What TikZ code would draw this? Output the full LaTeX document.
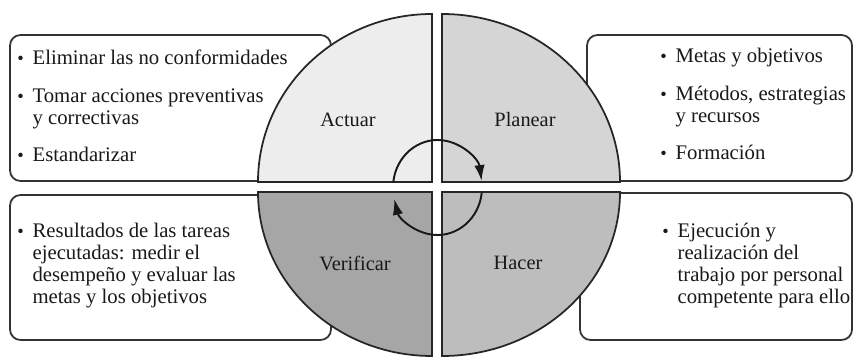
\documentclass[tikz,border=0pt]{standalone}
\usepackage{fontspec}
\setmainfont{Liberation Serif}
\usetikzlibrary{arrows.meta}
\definecolor{actgray}{HTML}{EDEDED}
\definecolor{plangray}{HTML}{D5D5D5}
\definecolor{hacgray}{HTML}{BDBDBD}
\definecolor{vergray}{HTML}{A6A6A6}
\newcommand{\pt}{\raisebox{0.3pt}{\fontsize{10.5}{10.5}\selectfont\textbullet}}

\begin{document}
\begin{tikzpicture}[
    x=0.02cm, y=0.02cm,
    >={Latex[length=9pt,width=6pt]},
    note/.style={draw=black!80, line width=1pt, rounded corners=6pt, fill=white},
    part/.style={draw=black!85, line width=1pt},
    lbl/.style={font=\fontsize{11.6}{13}\selectfont, text=black!90},
    items/.style={anchor=base west, inner sep=0pt, text=black!90,
                  font=\fontsize{11.8}{12.4}\selectfont},
    cyc/.style={->, line width=1.1pt, black!90},
  ]
  \useasboundingbox (0,0) rectangle (854,358);

  % text boxes, behind the wheel
  \draw[note] (10,177) rectangle (331,323);
  \draw[note] (587,177) rectangle (852,323);
  \draw[note] (10,18) rectangle (331,163);
  \draw[note] (580,18) rectangle (852,165);

  % wheel quarters
  \draw[part, fill=actgray] (432,176) -- ++(-174,0)
    arc[start angle=180, end angle=90, x radius=174, y radius=168] -- cycle;
  \draw[part, fill=plangray] (442,176) -- ++(0,168)
    arc[start angle=90, end angle=0, x radius=178, y radius=168] -- cycle;
  \draw[part, fill=hacgray] (442,166) -- ++(178,0)
    arc[start angle=0, end angle=-90, x radius=178, y radius=164] -- cycle;
  \draw[part, fill=vergray] (432,166) -- ++(0,-164)
    arc[start angle=270, end angle=180, x radius=174, y radius=164] -- cycle;

  \node[lbl] (actuar) at (348,238) {Actuar};
  \node[lbl] (planear) at (525,238) {Planear};
  \node[lbl] (verificar) at (355,95) {Verificar};
  \node[lbl] (hacer) at (518,95) {Hacer};

  % cycle arrows
  \coordinate (hub) at (437.5,170.5);
  \draw[cyc] ([shift={(174:44.5 and 47.5)}]hub)
    arc[start angle=174, end angle=8, x radius=44.5, y radius=47.5];
  \draw[cyc] ([shift={(-6:44.5 and 47.5)}]hub)
    arc[start angle=-6, end angle=-166, x radius=44.5, y radius=47.5];

  % lists
  \node[items] (act-list) at (17,293) {\begin{tabular}[t]{@{}l@{\hspace{5pt}}l@{}}
    \pt & Eliminar las no conformidades\\[9pt]
    \pt & Tomar acciones preventivas\\
        & y correctivas\\[9pt]
    \pt & Estandarizar
  \end{tabular}};
  \node[items] (plan-list) at (660,295) {\begin{tabular}[t]{@{}l@{\hspace{5pt}}l@{}}
    \pt & Metas y objetivos\\[9pt]
    \pt & Métodos, estrategias\\
        & y recursos\\[9pt]
    \pt & Formación
  \end{tabular}};
  \node[items] (ver-list) at (17,120) {\begin{tabular}[t]{@{}l@{\hspace{5pt}}l@{}}
    \pt & Resultados de las tareas\\
        & ejecutadas: medir el\\
        & desempeño y evaluar las\\
        & metas y los objetivos
  \end{tabular}};
  \node[items] (hac-list) at (662,120) {\begin{tabular}[t]{@{}l@{\hspace{5pt}}l@{}}
    \pt & Ejecución y\\
        & realización del\\
        & trabajo por personal\\
        & competente para ello
  \end{tabular}};
\end{tikzpicture}
\end{document}
